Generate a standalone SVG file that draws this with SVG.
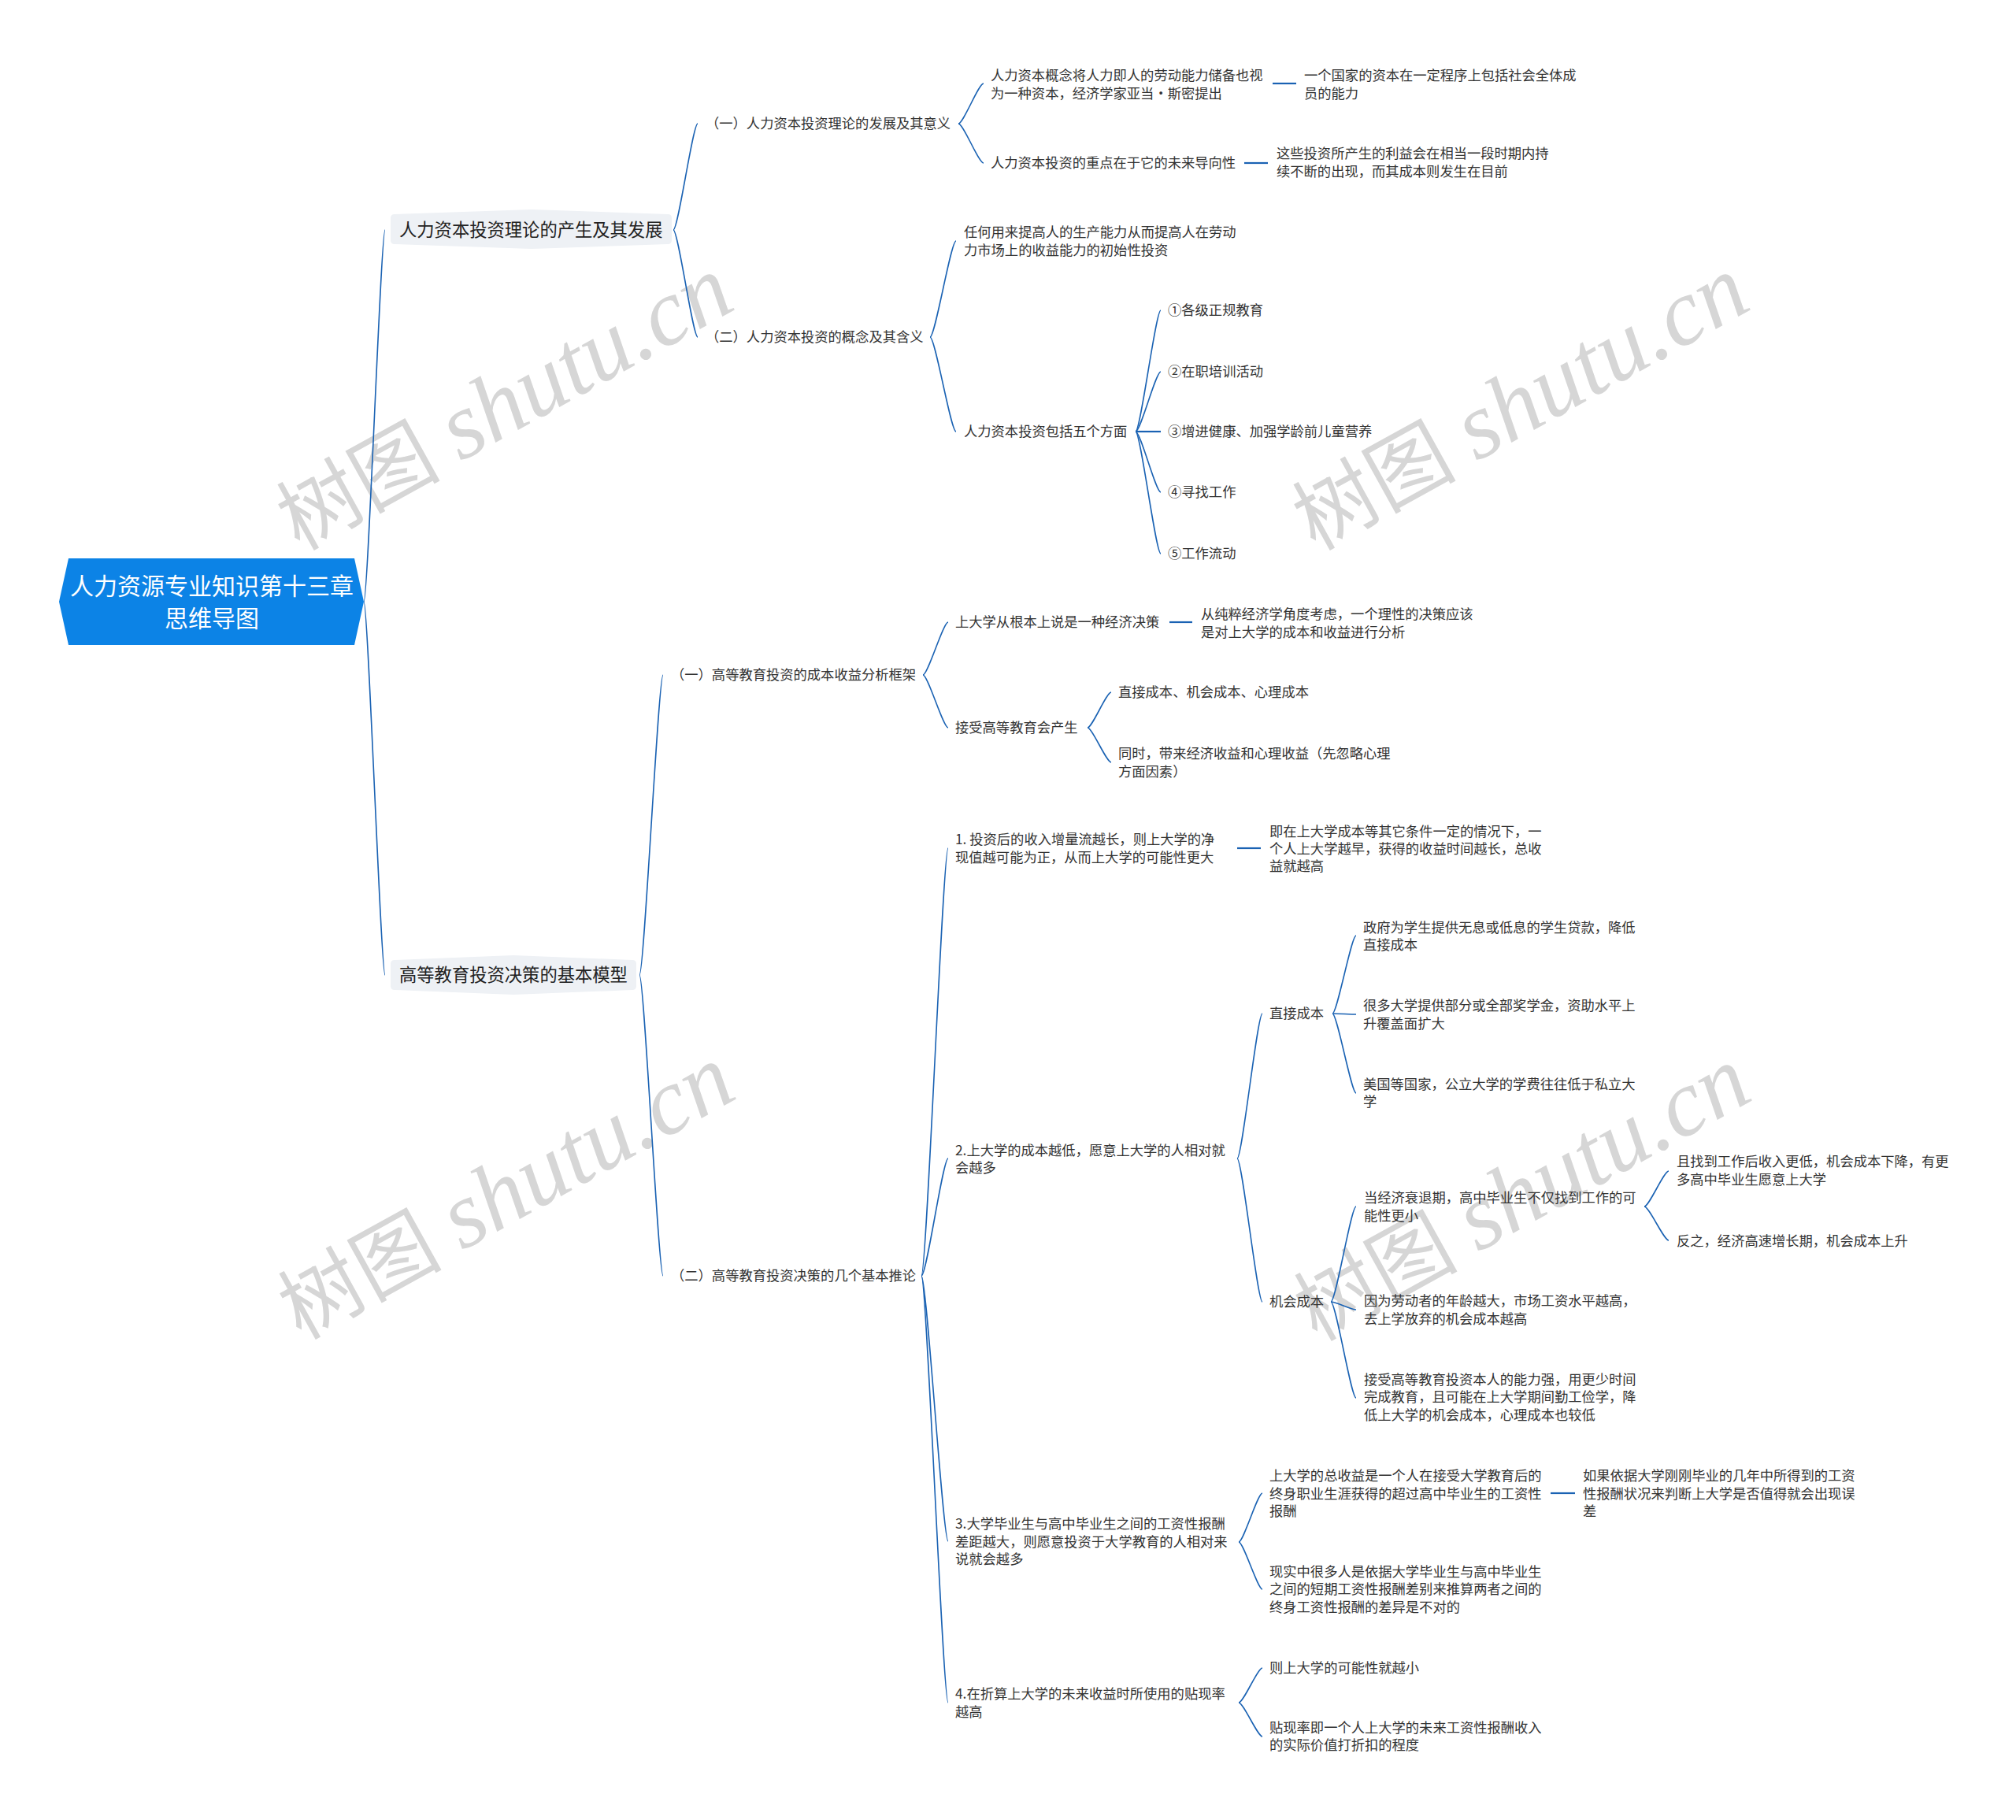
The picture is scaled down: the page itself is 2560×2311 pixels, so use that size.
<svg xmlns="http://www.w3.org/2000/svg" width="2560" height="2311" viewBox="0 0 2560 2311">
<style>
text{font-family:"Noto Sans CJK SC","Microsoft YaHei",sans-serif;fill:#333333;}
.t{font-size:17.3px;}
.l1{font-size:22.3px;fill:#222222;}
.rt{font-size:30px;fill:#ffffff;text-anchor:middle;}
.wm{font-family:"Liberation Serif","Noto Sans CJK SC",serif;font-size:104px;fill:#d6d6d6;}
.wm tspan.i{font-style:italic;font-size:120px;}
.c path{fill:none;stroke:#1a62b3;stroke-width:1.6;}
.c path.s{stroke-width:2.2;}
.l1box{fill:#eef1f5;}
</style>
<rect width="2560" height="2311" fill="#ffffff"/>
<g id="watermarks">
<text class="wm" transform="rotate(-29 380 700)" x="380" y="700">树图 <tspan class="i">shutu.cn</tspan></text>
<text class="wm" transform="rotate(-29 1670 700)" x="1670" y="700">树图 <tspan class="i">shutu.cn</tspan></text>
<text class="wm" transform="rotate(-29 382 1702)" x="382" y="1702">树图 <tspan class="i">shutu.cn</tspan></text>
<text class="wm" transform="rotate(-29 1672 1704)" x="1672" y="1704">树图 <tspan class="i">shutu.cn</tspan></text>
</g>
<g class="c" id="connectors">
<path d="M462,764 C467.4,764 483.6,292 489,292"/>
<path d="M462,764 C467.4,764 483.6,1238 489,1238"/>
<path d="M855,292 C861.2,292 879.8,157 886,157"/>
<path d="M855,292 C861.2,292 879.8,428 886,428"/>
<path d="M1217,157 C1223.4,157 1242.6,106 1249,106"/>
<path d="M1217,157 C1223.4,157 1242.6,207 1249,207"/>
<path class="s" d="M1616,106 L1646,106"/>
<path class="s" d="M1580,207 L1610,207"/>
<path d="M1181,428 C1187.6,428 1207.4,306 1214,306"/>
<path d="M1181,428 C1187.6,428 1207.4,548 1214,548"/>
<path d="M1442,548 C1448.4,548 1467.6,394 1474,394"/>
<path d="M1442,548 C1448.4,548 1467.6,472 1474,472"/>
<path class="s" d="M1442,548 L1474,548"/>
<path d="M1442,548 C1448.4,548 1467.6,625 1474,625"/>
<path d="M1442,548 C1448.4,548 1467.6,703 1474,703"/>
<path d="M812,1238 C818,1238 836,857 842,857"/>
<path d="M812,1238 C818,1238 836,1620 842,1620"/>
<path d="M1172,857 C1178.4,857 1197.6,790 1204,790"/>
<path d="M1172,857 C1178.4,857 1197.6,924 1204,924"/>
<path class="s" d="M1485,790 L1514,790"/>
<path d="M1381,924 C1387,924 1405,879 1411,879"/>
<path d="M1381,924 C1387,924 1405,968 1411,968"/>
<path d="M1170,1620 C1176.8,1620 1197.2,1077 1204,1077"/>
<path d="M1170,1620 C1176.8,1620 1197.2,1471 1204,1471"/>
<path d="M1170,1620 C1176.8,1620 1197.2,1957 1204,1957"/>
<path d="M1170,1620 C1176.8,1620 1197.2,2162 1204,2162"/>
<path class="s" d="M1571,1077 L1601,1077"/>
<path d="M1571,1471 C1577.4,1471 1596.6,1287 1603,1287"/>
<path d="M1571,1471 C1577.4,1471 1596.6,1653 1603,1653"/>
<path d="M1692,1287 C1698,1287 1716,1188 1722,1188"/>
<path d="M1692,1287 C1698,1287 1716,1288 1722,1288"/>
<path d="M1692,1287 C1698,1287 1716,1388 1722,1388"/>
<path d="M1690,1653 C1696.4,1653 1715.6,1532 1722,1532"/>
<path d="M1690,1653 C1696.4,1653 1715.6,1663 1722,1663"/>
<path d="M1690,1653 C1696.4,1653 1715.6,1775 1722,1775"/>
<path d="M2088,1532 C2094.2,1532 2112.8,1487 2119,1487"/>
<path d="M2088,1532 C2094.2,1532 2112.8,1575 2119,1575"/>
<path d="M1573,1958 C1579,1958 1597,1896 1603,1896"/>
<path d="M1573,1958 C1579,1958 1597,2018 1603,2018"/>
<path class="s" d="M1969,1896 L2000,1896"/>
<path d="M1573,2162 C1579,2162 1597,2118 1603,2118"/>
<path d="M1573,2162 C1579,2162 1597,2205 1603,2205"/>
</g>
<g id="root">
<polygon points="87,709 450,709 462,764 450,819 87,819 75,764" fill="#0c83e6"/>
<text class="rt" x="269" y="755">人力资源专业知识第十三章</text>
<text class="rt" x="269" y="796">思维导图</text>
</g>
<g id="n-a">
<path class="l1box" d="M501,272 L675,266 L848,272 Q853,272 853,277 L853,305 Q853,310 848,310 L675,316 L501,310 Q496,310 496,305 L496,277 Q496,272 501,272 Z"/>
<text class="l1" x="507" y="300">人力资本投资理论的产生及其发展</text>
</g>
<g id="n-b">
<path class="l1box" d="M501,1219 L652,1213 L803,1219 Q808,1219 808,1224 L808,1252 Q808,1257 803,1257 L652,1263 L501,1257 Q496,1257 496,1252 L496,1224 Q496,1219 501,1219 Z"/>
<text class="l1" x="507" y="1246">高等教育投资决策的基本模型</text>
</g>
<g id="n-a1"><text class="t" x="896" y="163">（一）人力资本投资理论的发展及其意义</text></g>
<g id="n-a1a"><text class="t" x="1258" y="102">人力资本概念将人力即人的劳动能力储备也视</text><text class="t" x="1258" y="125">为一种资本，经济学家亚当·斯密提出</text></g>
<g id="n-a1a1"><text class="t" x="1656" y="102">一个国家的资本在一定程序上包括社会全体成</text><text class="t" x="1656" y="125">员的能力</text></g>
<g id="n-a1b"><text class="t" x="1258" y="213">人力资本投资的重点在于它的未来导向性</text></g>
<g id="n-a1b1"><text class="t" x="1621" y="201">这些投资所产生的利益会在相当一段时期内持</text><text class="t" x="1621" y="224">续不断的出现，而其成本则发生在目前</text></g>
<g id="n-a2"><text class="t" x="896" y="434">（二）人力资本投资的概念及其含义</text></g>
<g id="n-a2a"><text class="t" x="1224" y="301">任何用来提高人的生产能力从而提高人在劳动</text><text class="t" x="1224" y="324">力市场上的收益能力的初始性投资</text></g>
<g id="n-a2b"><text class="t" x="1224" y="554">人力资本投资包括五个方面</text></g>
<g id="n-a2b1"><text class="t" x="1483" y="400">①各级正规教育</text></g>
<g id="n-a2b2"><text class="t" x="1483" y="478">②在职培训活动</text></g>
<g id="n-a2b3"><text class="t" x="1483" y="554">③增进健康、加强学龄前儿童营养</text></g>
<g id="n-a2b4"><text class="t" x="1483" y="631">④寻找工作</text></g>
<g id="n-a2b5"><text class="t" x="1483" y="709">⑤工作流动</text></g>
<g id="n-b1"><text class="t" x="852" y="863">（一）高等教育投资的成本收益分析框架</text></g>
<g id="n-b1a"><text class="t" x="1213" y="796">上大学从根本上说是一种经济决策</text></g>
<g id="n-b1a1"><text class="t" x="1525" y="786">从纯粹经济学角度考虑，一个理性的决策应该</text><text class="t" x="1525" y="809">是对上大学的成本和收益进行分析</text></g>
<g id="n-b1b"><text class="t" x="1213" y="930">接受高等教育会产生</text></g>
<g id="n-b1b1"><text class="t" x="1420" y="885">直接成本、机会成本、心理成本</text></g>
<g id="n-b1b2"><text class="t" x="1420" y="963">同时，带来经济收益和心理收益（先忽略心理</text><text class="t" x="1420" y="986">方面因素）</text></g>
<g id="n-b2"><text class="t" x="852" y="1626">（二）高等教育投资决策的几个基本推论</text></g>
<g id="n-b2a"><text class="t" x="1213" y="1072">1. 投资后的收入增量流越长，则上大学的净</text><text class="t" x="1213" y="1095">现值越可能为正，从而上大学的可能性更大</text></g>
<g id="n-b2a1"><text class="t" x="1612" y="1062">即在上大学成本等其它条件一定的情况下，一</text><text class="t" x="1612" y="1084">个人上大学越早，获得的收益时间越长，总收</text><text class="t" x="1612" y="1106">益就越高</text></g>
<g id="n-b2b"><text class="t" x="1213" y="1467">2.上大学的成本越低，愿意上大学的人相对就</text><text class="t" x="1213" y="1489">会越多</text></g>
<g id="n-b2b1"><text class="t" x="1612" y="1293">直接成本</text></g>
<g id="n-b2b1a"><text class="t" x="1731" y="1184">政府为学生提供无息或低息的学生贷款，降低</text><text class="t" x="1731" y="1206">直接成本</text></g>
<g id="n-b2b1b"><text class="t" x="1731" y="1283">很多大学提供部分或全部奖学金，资助水平上</text><text class="t" x="1731" y="1306">升覆盖面扩大</text></g>
<g id="n-b2b1c"><text class="t" x="1731" y="1383">美国等国家，公立大学的学费往往低于私立大</text><text class="t" x="1731" y="1405">学</text></g>
<g id="n-b2b2"><text class="t" x="1612" y="1659">机会成本</text></g>
<g id="n-b2b2a"><text class="t" x="1732" y="1527">当经济衰退期，高中毕业生不仅找到工作的可</text><text class="t" x="1732" y="1550">能性更小</text></g>
<g id="n-b2b2a1"><text class="t" x="2129" y="1481">且找到工作后收入更低，机会成本下降，有更</text><text class="t" x="2129" y="1504">多高中毕业生愿意上大学</text></g>
<g id="n-b2b2a2"><text class="t" x="2129" y="1582">反之，经济高速增长期，机会成本上升</text></g>
<g id="n-b2b2b"><text class="t" x="1732" y="1658">因为劳动者的年龄越大，市场工资水平越高，</text><text class="t" x="1732" y="1681">去上学放弃的机会成本越高</text></g>
<g id="n-b2b2c"><text class="t" x="1732" y="1758">接受高等教育投资本人的能力强，用更少时间</text><text class="t" x="1732" y="1780">完成教育，且可能在上大学期间勤工俭学，降</text><text class="t" x="1732" y="1803">低上大学的机会成本，心理成本也较低</text></g>
<g id="n-b2c"><text class="t" x="1213" y="1941">3.大学毕业生与高中毕业生之间的工资性报酬</text><text class="t" x="1213" y="1964">差距越大，则愿意投资于大学教育的人相对来</text><text class="t" x="1213" y="1986">说就会越多</text></g>
<g id="n-b2c1"><text class="t" x="1612" y="1880">上大学的总收益是一个人在接受大学教育后的</text><text class="t" x="1612" y="1903">终身职业生涯获得的超过高中毕业生的工资性</text><text class="t" x="1612" y="1925">报酬</text></g>
<g id="n-b2c1a"><text class="t" x="2010" y="1880">如果依据大学刚刚毕业的几年中所得到的工资</text><text class="t" x="2010" y="1903">性报酬状况来判断上大学是否值得就会出现误</text><text class="t" x="2010" y="1925">差</text></g>
<g id="n-b2c2"><text class="t" x="1612" y="2002">现实中很多人是依据大学毕业生与高中毕业生</text><text class="t" x="1612" y="2024">之间的短期工资性报酬差别来推算两者之间的</text><text class="t" x="1612" y="2047">终身工资性报酬的差异是不对的</text></g>
<g id="n-b2d"><text class="t" x="1213" y="2157">4.在折算上大学的未来收益时所使用的贴现率</text><text class="t" x="1213" y="2180">越高</text></g>
<g id="n-b2d1"><text class="t" x="1612" y="2124">则上大学的可能性就越小</text></g>
<g id="n-b2d2"><text class="t" x="1612" y="2200">贴现率即一个人上大学的未来工资性报酬收入</text><text class="t" x="1612" y="2222">的实际价值打折扣的程度</text></g>
</svg>
